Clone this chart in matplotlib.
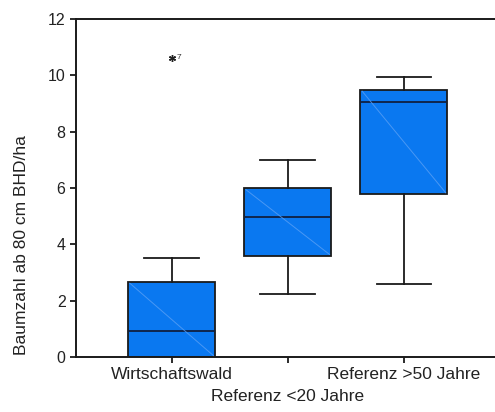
import numpy as np
import matplotlib
matplotlib.use('Agg')
from matplotlib import pyplot as plt

# group names (x tick labels)
groups = ['Wirtschaftswald', 'Referenz <20 Jahre', 'Referenz >50 Jahre']

# box statistics
q1 = [0.0, 3.59, 5.78]
medians = [0.92, 4.96, 9.06]
q3 = [2.67, 5.99, 9.49]
whis_lo = [0.0, 2.22, 2.59]
whis_hi = [3.53, 6.99, 9.93]
outliers = [[10.63], [], []]
outlier_ids = [['7'], [], []]

box_color = '#0a78f0'

plt.rcParams['font.family'] = ['Liberation Sans', 'DejaVu Sans']

fig = plt.figure(figsize=(4.95, 4.12), dpi=100)
ax = fig.add_axes([76/495, 55/412, 423.5/495, 338/412])

stats = []
for i in range(len(groups)):
    stats.append(dict(med=medians[i], q1=q1[i], q3=q3[i],
                      whislo=whis_lo[i], whishi=whis_hi[i],
                      fliers=[], label=groups[i]))

pos = np.arange(1, len(groups) + 1)
ax.bxp(stats, positions=pos, widths=0.75, patch_artist=True,
       showfliers=False,
       boxprops=dict(facecolor=box_color, edgecolor='#1a1a1a', linewidth=1.3),
       medianprops=dict(color='#102040', linewidth=1.3),
       whiskerprops=dict(color='#1a1a1a', linewidth=1.3),
       capprops=dict(color='#1a1a1a', linewidth=1.3),
       capwidths=0.47)

# faint diagonal rendering artefact inside each box
for i, p in enumerate(pos):
    ax.plot([p - 0.36, p + 0.36], [q3[i] - 0.05, q1[i] + 0.05],
            color='#5aa0f5', lw=0.7, alpha=0.8, zorder=3)

# outliers with case numbers
for i, p in enumerate(pos):
    for v, lab in zip(outliers[i], outlier_ids[i]):
        ax.plot(p, v, marker=(6, 2, 0), color='#222222', ms=5, mew=1)
        ax.text(p + 0.04, v, lab, fontsize=6, va='center', ha='left',
                color='#333333')

ax.set_xlim(0.177, 3.823)
ax.set_ylim(0, 12)
ax.set_yticks([0, 2, 4, 6, 8, 10, 12])
ax.set_xticks(pos)
ax.set_xticklabels(groups, fontsize=12.5)
ax.set_ylabel('Baumzahl ab 80 cm BHD/ha', fontsize=12.5, color='#222222')
ax.yaxis.set_label_coords(-0.11, 0.33)

ax.spines['right'].set_visible(False)
for s in ['left', 'bottom', 'top']:
    ax.spines[s].set_linewidth(1.4)
    ax.spines[s].set_color('#1a1a1a')
ax.tick_params(axis='both', length=4, width=1.3,
               colors='#1a1a1a', labelcolor='#222222')
ax.tick_params(axis='y', labelsize=11.5)

# stagger the middle label downwards
ax.xaxis.get_major_ticks()[1].set_pad(19)

fig.savefig('out.png', dpi=100)
